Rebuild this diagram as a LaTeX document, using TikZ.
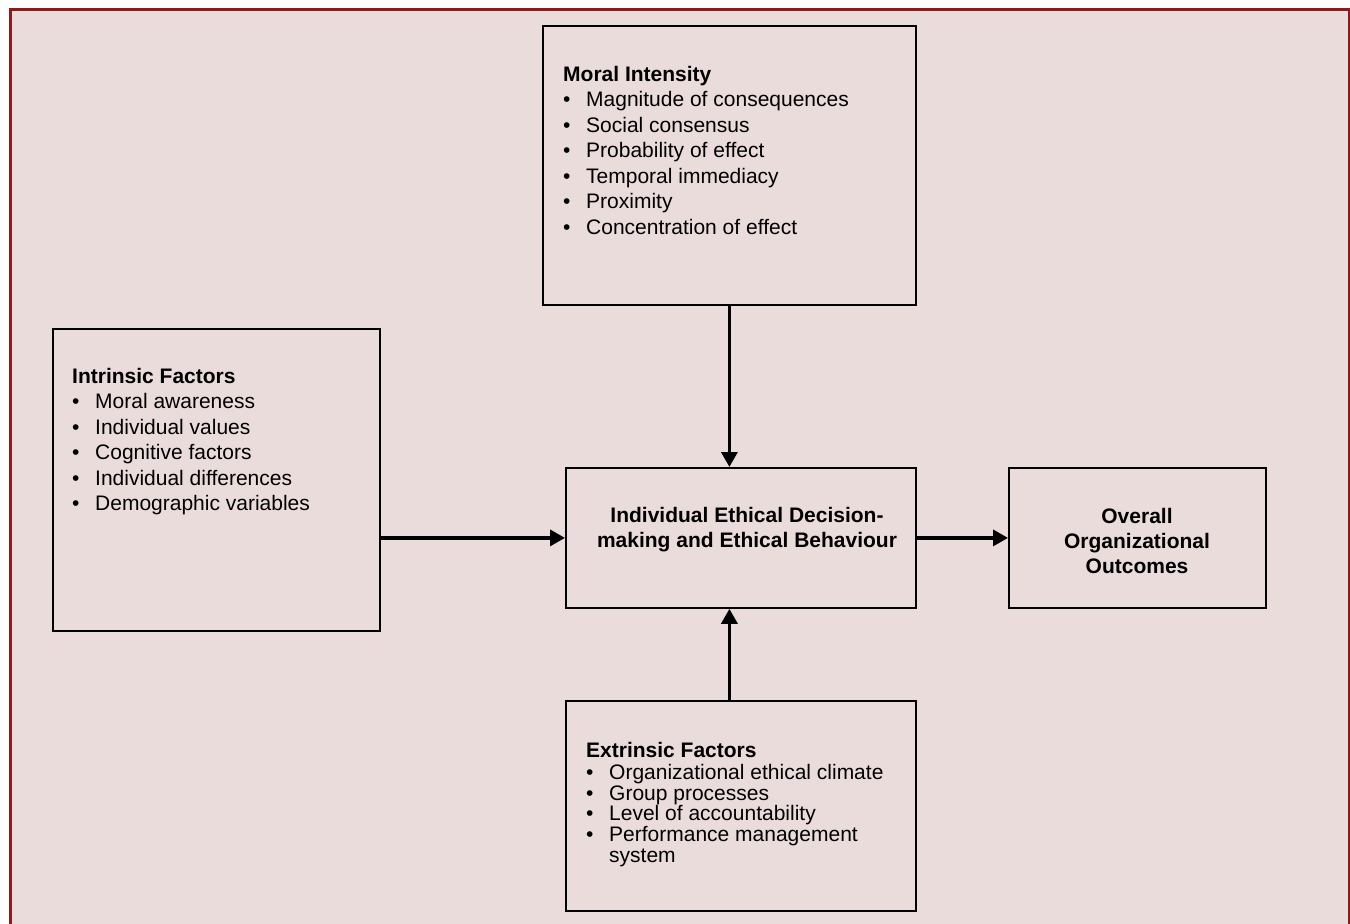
\documentclass[tikz,border=0pt]{standalone}
\usepackage{fontspec}
\setmainfont{Liberation Sans}
\usetikzlibrary{arrows.meta}
\definecolor{pagebg}{RGB}{235,220,220}
\definecolor{frame}{RGB}{140,28,28}
\newcommand{\bul}{\makebox[23pt][l]{\textbullet}}
\begin{document}
\begin{tikzpicture}[x=1pt, y=-1pt,
    box/.style={draw, line width=1.8pt, inner sep=0pt, anchor=north west},
    listtext/.style={inner sep=0pt, anchor=north west, align=left, font=\fontsize{21}{25.5}\selectfont},
    boldtext/.style={inner sep=0pt, align=center, font=\fontsize{21}{25.2}\selectfont\bfseries},
    link/.style={line width=3.4pt, -{Triangle[length=15pt,width=16pt]}}]
    \useasboundingbox (0,0) rectangle (1350,924);
    % Page background and frame
    \fill[pagebg] (10.5,9.5) rectangle (1350,924);
    \draw[frame, line width=2.7pt] (10.7,924) -- (10.7,9.5) -- (1349.5,9.5) -- (1349.5,924);
    % Boxes
    \node[box, minimum width=373pt, minimum height=279pt] (moral) at (542,25) {};
    \node[box, minimum width=327pt, minimum height=302pt] (intr) at (52,328) {};
    \node[box, minimum width=350pt, minimum height=140pt] (central) at (565,467) {};
    \node[box, minimum width=257pt, minimum height=140pt] (outcome) at (1008,467) {};
    \node[box, minimum width=350pt, minimum height=210pt] (extr) at (565,700) {};
    % Box texts
    \node[listtext] (moraltxt) at (563,66) {\textbf{Moral Intensity}\\
        \bul Magnitude of consequences\\
        \bul Social consensus\\
        \bul Probability of effect\\
        \bul Temporal immediacy\\
        \bul Proximity\\
        \bul Concentration of effect};
    \node[listtext] (intrtxt) at (72,368) {\textbf{Intrinsic Factors}\\
        \bul Moral awareness\\
        \bul Individual values\\
        \bul Cognitive factors\\
        \bul Individual differences\\
        \bul Demographic variables};
    \node[listtext, font=\fontsize{21}{20.7}\selectfont] (extrtxt) at (586,742) {\textbf{Extrinsic Factors}\\[1.3pt]
        \bul Organizational ethical climate\\
        \bul Group processes\\
        \bul Level of accountability\\
        \bul Performance management\\
        \hspace*{23pt}system};
    \node[boldtext] (centraltxt) at (747,530) {Individual Ethical Decision-\\making and Ethical Behaviour};
    \node[boldtext] (outcometxt) at (1137,541) {Overall\\Organizational\\Outcomes};
    % Arrows
    \draw[link] (moral.south) -- (moral.south |- central.north);
    \draw[link] (moral.south |- extr.north) -- (moral.south |- central.south);
    \draw[link] (intr.east |- central.west) -- (central.west);
    \draw[link] (central.east) -- (outcome.west);
\end{tikzpicture}
\end{document}
